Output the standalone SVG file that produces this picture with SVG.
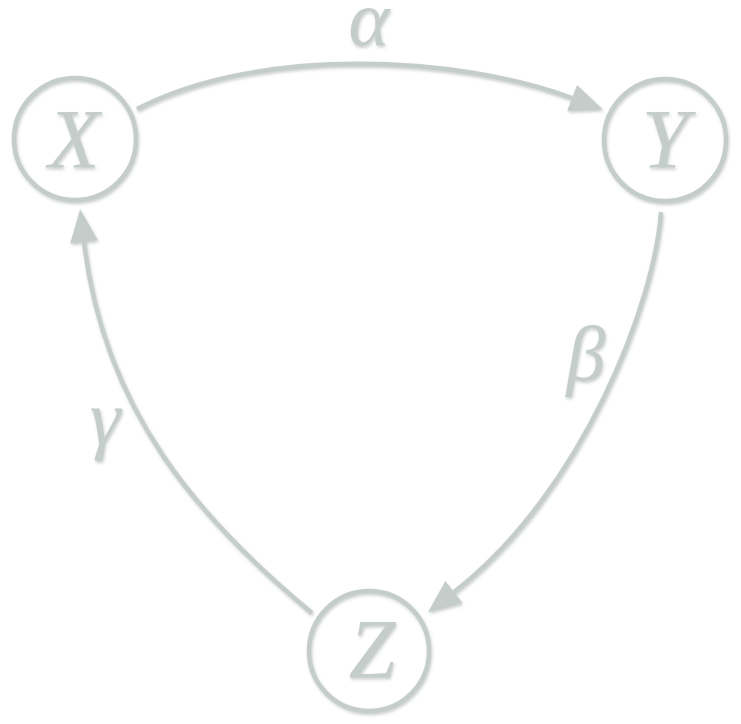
<svg xmlns="http://www.w3.org/2000/svg" width="741" height="724" viewBox="0 0 741 724">
  <style>
    .node circle { fill: none; stroke: #c5cdcb; stroke-width: 4.5; }
    .node text, .label { font-family: "Liberation Serif", "Times New Roman", serif; font-style: italic; font-weight: normal; fill: #c5cdcb; text-anchor: middle; }
    .node text { font-size: 84px; }
    .label { font-size: 78px; }
    .edge { fill: none; stroke: #c5cdcb; stroke-width: 4.5; }
  </style>
  <defs>
    <filter id="shadow" x="-10%" y="-10%" width="120%" height="120%">
      <feDropShadow dx="1" dy="2" stdDeviation="1.6" flood-color="#7d8584" flood-opacity="0.4"/>
    </filter>
    <marker id="arrow" viewBox="0 -15 34 30" refX="0" refY="0" markerWidth="34" markerHeight="30" markerUnits="userSpaceOnUse" orient="auto">
      <path d="M0,-14 L33,0 L0,14 z" fill="#c5cdcb"/>
    </marker>
  </defs>
  <rect width="741" height="724" fill="#ffffff"/>
  <g filter="url(#shadow)">
    <g id="connectors">
      <path class="edge" d="M137,109 C260,45 460,56 572,98" marker-end="url(#arrow)"/>
      <path class="edge" d="M661,212 C655,300 584,491 454,592" marker-end="url(#arrow)"/>
      <path class="edge" d="M312,613 C200,520 104,412 84,242" marker-end="url(#arrow)"/>
      <text class="label" x="369" y="45">α</text>
      <text class="label" x="586" y="380">β</text>
      <text class="label" x="105" y="444">γ</text>
    </g>
    <g id="node-X" class="node">
      <circle cx="75" cy="139" r="61"/>
      <text x="74" y="168">X</text>
    </g>
    <g id="node-Y" class="node">
      <circle cx="665" cy="140" r="61"/>
      <text x="665" y="168">Y</text>
    </g>
    <g id="node-Z" class="node">
      <circle cx="369" cy="651" r="60"/>
      <text x="372" y="678">Z</text>
    </g>
  </g>
</svg>
